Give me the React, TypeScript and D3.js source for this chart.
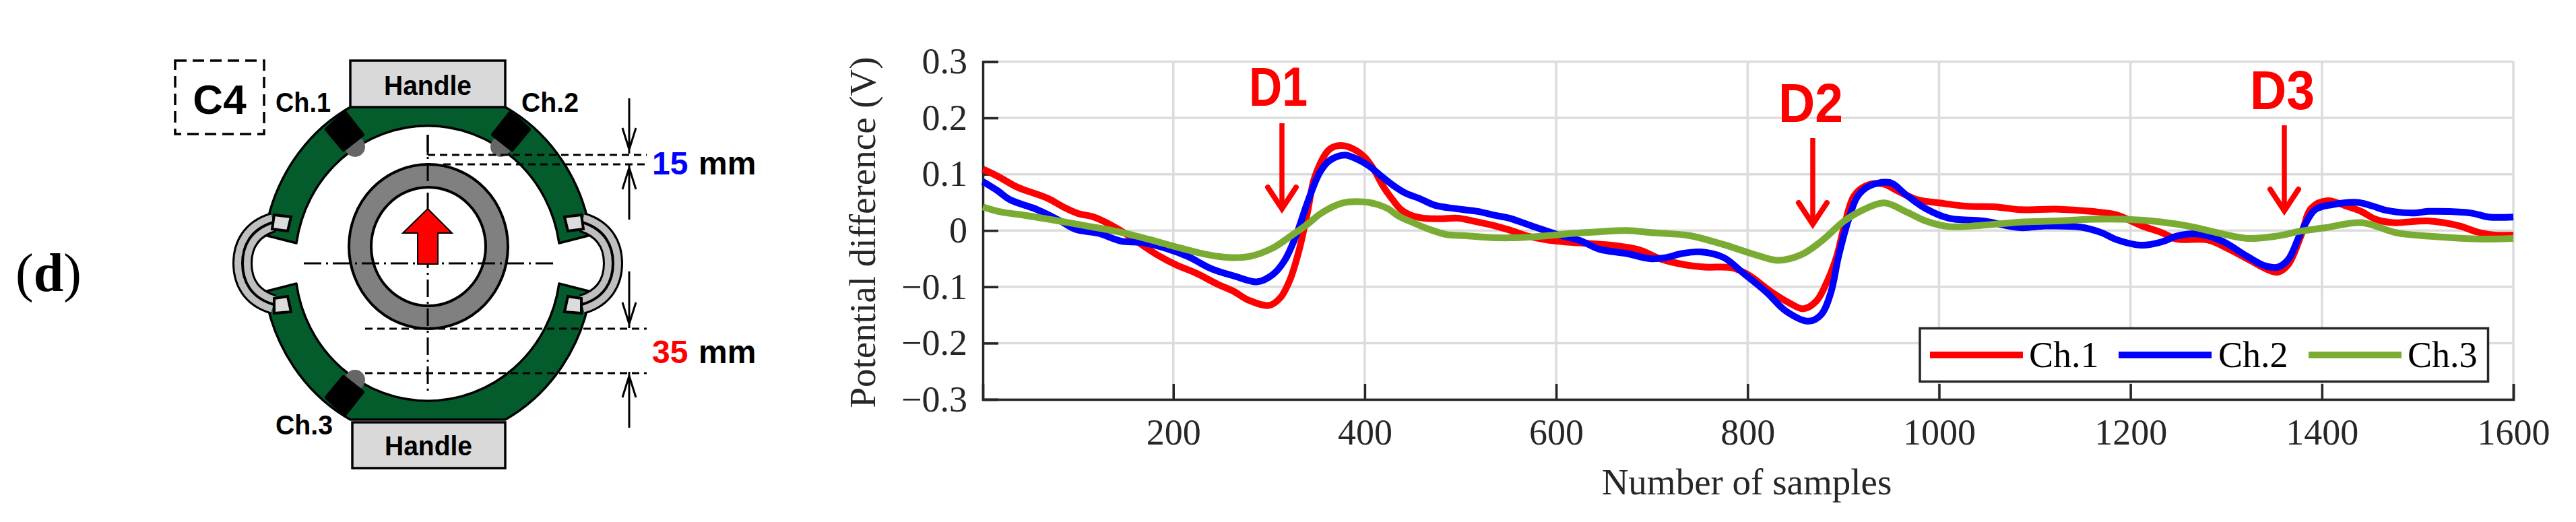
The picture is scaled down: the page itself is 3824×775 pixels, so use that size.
import React, { useRef, useEffect } from "react";
import * as d3 from "d3";

// values
const ch1Samples = [1, 17, 37, 69, 85, 101, 117, 142, 166, 183, 203, 223, 247, 263, 279, 300, 312, 322, 332, 340, 348, 363, 375, 389, 400, 410, 419, 429, 438, 447, 461, 480, 497, 513, 532, 551, 573, 601, 634, 662, 686, 710, 735, 755, 783, 800, 824, 844, 858, 872, 884, 893, 901, 911, 923, 941, 957, 977, 1005, 1030, 1059, 1085, 1122, 1159, 1185, 1211, 1233, 1248, 1281, 1304, 1326, 1344, 1354, 1365, 1378, 1389, 1406, 1426, 1441, 1456, 1474, 1511, 1544, 1563, 1581, 1600];
const ch1Values = [0.109, 0.096, 0.077, 0.057, 0.042, 0.03, 0.024, 0.003, -0.024, -0.043, -0.061, -0.075, -0.096, -0.108, -0.124, -0.133, -0.119, -0.087, -0.031, 0.031, 0.096, 0.144, 0.151, 0.144, 0.13, 0.107, 0.079, 0.055, 0.037, 0.028, 0.022, 0.021, 0.022, 0.017, 0.01, 0.001, -0.011, -0.019, -0.023, -0.027, -0.034, -0.051, -0.061, -0.065, -0.066, -0.078, -0.108, -0.129, -0.139, -0.125, -0.087, -0.046, 0.008, 0.061, 0.079, 0.083, 0.07, 0.055, 0.048, 0.043, 0.042, 0.037, 0.038, 0.034, 0.028, 0.009, -0.004, -0.015, -0.017, -0.034, -0.054, -0.07, -0.074, -0.06, -0.01, 0.04, 0.053, 0.043, 0.034, 0.02, 0.014, 0.017, 0.008, -0.003, -0.008, -0.008];
const ch2Samples = [1, 17, 29, 58, 82, 98, 122, 146, 166, 191, 215, 240, 264, 288, 304, 316, 328, 340, 353, 363, 379, 393, 405, 417, 429, 443, 457, 473, 494, 518, 536, 551, 573, 601, 625, 645, 674, 698, 715, 731, 751, 775, 795, 820, 840, 864, 877, 887, 895, 905, 915, 927, 949, 965, 985, 1010, 1046, 1085, 1111, 1148, 1170, 1185, 1211, 1233, 1248, 1270, 1296, 1322, 1341, 1354, 1365, 1378, 1393, 1411, 1437, 1452, 1467, 1496, 1511, 1556, 1574, 1600];
const ch2Values = [0.087, 0.07, 0.055, 0.037, 0.017, 0.002, -0.005, -0.019, -0.021, -0.031, -0.046, -0.068, -0.081, -0.091, -0.078, -0.054, -0.01, 0.049, 0.103, 0.124, 0.134, 0.126, 0.114, 0.097, 0.081, 0.066, 0.057, 0.045, 0.039, 0.034, 0.027, 0.022, 0.009, -0.007, -0.018, -0.033, -0.041, -0.05, -0.048, -0.041, -0.038, -0.048, -0.075, -0.11, -0.143, -0.161, -0.149, -0.11, -0.046, 0.017, 0.061, 0.079, 0.085, 0.064, 0.04, 0.022, 0.017, 0.005, 0.008, 0.006, -0.004, -0.016, -0.026, -0.02, -0.01, -0.006, -0.019, -0.046, -0.063, -0.065, -0.051, -0.004, 0.037, 0.046, 0.05, 0.044, 0.036, 0.031, 0.034, 0.031, 0.024, 0.024];
const ch3Samples = [1, 20, 45, 77, 110, 142, 175, 207, 236, 258, 280, 304, 320, 340, 353, 365, 377, 398, 412, 424, 436, 452, 466, 485, 504, 527, 551, 585, 617, 646, 674, 702, 739, 775, 808, 832, 856, 877, 901, 921, 943, 966, 986, 1010, 1043, 1085, 1122, 1159, 1193, 1233, 1263, 1293, 1322, 1352, 1378, 1404, 1441, 1478, 1511, 1563, 1600];
const ch3Values = [0.042, 0.033, 0.027, 0.018, 0.008, -0.002, -0.016, -0.031, -0.043, -0.048, -0.046, -0.031, -0.013, 0.011, 0.029, 0.041, 0.049, 0.051, 0.047, 0.039, 0.025, 0.013, 0.003, -0.007, -0.009, -0.012, -0.013, -0.01, -0.005, -0.002, 0, -0.004, -0.009, -0.025, -0.043, -0.053, -0.043, -0.019, 0.017, 0.037, 0.049, 0.033, 0.017, 0.007, 0.009, 0.015, 0.017, 0.02, 0.02, 0.015, 0.007, -0.005, -0.014, -0.01, -0.001, 0.005, 0.014, -0.004, -0.01, -0.015, -0.014];

const xTickValues = [200, 400, 600, 800, 1000, 1200, 1400, 1600];
const yTickValues = [-0.3, -0.2, -0.1, 0, 0.1, 0.2, 0.3];

const channelNames = ["Ch.1", "Ch.2", "Ch.3"];
const channelColors = ["#ff0000", "#0000ff", "#7aab33"];

const serif = "'Liberation Serif', serif";
const sans = "'Liberation Sans', Arial, sans-serif";

const ink = "#262626";

// mirror helpers for the sensor schematic, which is symmetric around (635, 391)
const mx = (x: number) => 1270 - x;
const my = (y: number) => 782 - y;
const pts = (p: number[][]) => p.map((d) => d.join(",")).join(" ");

const sensorBody = [[512, 167], [538, 200], [510, 222], [485, 192]];
const coilPath = "M406,330 C372,340 360,365 360,391 C360,417 372,442 406,452";
const upperBoard = "M393,349 A245,263 0 0 1 520,159 L750,159 A245,263 0 0 1 877,349 L830,361 A197,203 0 0 0 440,361 Z";
const lowerBoard = "M393,433 A245,263 0 0 0 520,623 L750,623 A245,263 0 0 0 877,433 L830,421 A197,203 0 0 1 440,421 Z";

function DownArrow({ x, y0, y1 }: { x: number; y0: number; y1: number }) {
  return (
    <path
      d={`M${x},${y0} L${x},${y1} M${x - 10},${y1 - 38} L${x},${y1 - 6} L${x + 10},${y1 - 38}`}
      fill="none"
      stroke="#000"
      strokeWidth={3}
    />
  );
}

function UpArrow({ x, y0, y1 }: { x: number; y0: number; y1: number }) {
  return (
    <path
      d={`M${x},${y0} L${x},${y1} M${x - 10},${y1 + 38} L${x},${y1 + 6} L${x + 10},${y1 + 38}`}
      fill="none"
      stroke="#000"
      strokeWidth={3}
    />
  );
}

function RedMark({ label, x, top, tip, tx, ty, tw }: { label: string; x: number; top: number; tip: number; tx: number; ty: number; tw: number }) {
  const wingY = tip - 39;
  return (
    <g>
      <line x1={x} x2={x} y1={top} y2={tip - 10} stroke="#ff0000" strokeWidth={7.5} />
      <path
        d={`M${x - 21},${wingY} L${x},${tip - 7} L${x + 21},${wingY}`}
        fill="none"
        stroke="#ff0000"
        strokeWidth={8}
        strokeLinecap="round"
        strokeMiterlimit={8}
      />
      <text x={tx} y={ty} fontFamily={sans} fontWeight={700} fontSize={82} fill="#ff0000" textLength={tw} lengthAdjust="spacingAndGlyphs">
        {label}
      </text>
    </g>
  );
}

function Schematic() {
  const coil = (flip: boolean) => (
    <g transform={flip ? "translate(1270,0) scale(-1,1)" : undefined}>
      <path d={coilPath} fill="none" stroke="#000" strokeWidth={30} />
      <path d={coilPath} fill="none" stroke="#bfbfbf" strokeWidth={24} />
      <path d={coilPath} fill="none" stroke="#000" strokeWidth={4} />
      <polygon points={pts([[407, 319], [432, 322], [427, 343], [404, 340]])} fill="#dcdcdc" stroke="#000" strokeWidth={4} />
      <polygon points={pts([[407, 443], [427, 440], [432, 463], [407, 465]])} fill="#dcdcdc" stroke="#000" strokeWidth={4} />
    </g>
  );

  return (
    <g>
      <text x={23} y={432} fontFamily={serif} fontSize={80} fill="#000">
        (<tspan fontWeight={700}>d</tspan>)
      </text>

      <rect x={260} y={90} width={132} height={109} fill="none" stroke="#000" strokeWidth={3.5} strokeDasharray="17 9" />
      <text x={326} y={169} textAnchor="middle" fontFamily={sans} fontWeight={700} fontSize={62} fill="#000">C4</text>

      <path d={upperBoard} fill="#045c2c" stroke="#000" strokeWidth={3.5} strokeLinejoin="round" />
      <path d={lowerBoard} fill="#045c2c" stroke="#000" strokeWidth={3.5} strokeLinejoin="round" />
      {coil(false)}
      {coil(true)}

      <rect x={520} y={90} width={230} height={69} fill="#d9d9d9" stroke="#000" strokeWidth={3.5} />
      <rect x={523} y={627} width={227} height={68} fill="#d9d9d9" stroke="#000" strokeWidth={3.5} />
      <text x={635} y={141} textAnchor="middle" fontFamily={sans} fontWeight={700} fontSize={41} fill="#000" textLength={130} lengthAdjust="spacingAndGlyphs">Handle</text>
      <text x={636} y={676} textAnchor="middle" fontFamily={sans} fontWeight={700} fontSize={41} fill="#000" textLength={130} lengthAdjust="spacingAndGlyphs">Handle</text>

      <circle cx={527} cy={218} r={15} fill="#666" />
      <circle cx={mx(527)} cy={218} r={15} fill="#666" />
      <circle cx={527} cy={my(218)} r={15} fill="#666" />
      <polygon points={pts(sensorBody)} fill="#000" stroke="#000" strokeWidth={6} strokeLinejoin="round" />
      <polygon points={pts(sensorBody.map(([x, y]) => [mx(x), y]))} fill="#000" stroke="#000" strokeWidth={6} strokeLinejoin="round" />
      <polygon points={pts(sensorBody.map(([x, y]) => [x, my(y)]))} fill="#000" stroke="#000" strokeWidth={6} strokeLinejoin="round" />

      <text x={409} y={166} fontFamily={sans} fontWeight={700} fontSize={40} textLength={82} lengthAdjust="spacingAndGlyphs">Ch.1</text>
      <text x={774} y={166} fontFamily={sans} fontWeight={700} fontSize={40} textLength={85} lengthAdjust="spacingAndGlyphs">Ch.2</text>
      <text x={409} y={645} fontFamily={sans} fontWeight={700} fontSize={40} textLength={85} lengthAdjust="spacingAndGlyphs">Ch.3</text>

      <ellipse cx={636} cy={366} rx={118} ry={122} fill="#808080" stroke="#000" strokeWidth={4} />
      <ellipse cx={636} cy={366} rx={85} ry={88} fill="#fff" stroke="#000" strokeWidth={4} />

      <line x1={635} y1={200} x2={635} y2={586} stroke="#000" strokeWidth={3} strokeDasharray="26 7 3 7" />
      <line x1={451} y1={391} x2={826} y2={391} stroke="#000" strokeWidth={3} strokeDasharray="26 7 3 7" />
      <line x1={635} y1={200} x2={635} y2={230} stroke="#000" strokeWidth={3} />

      <polygon
        points={pts([[635, 310], [671, 346], [650, 346], [650, 392], [620, 392], [620, 346], [598, 346]])}
        fill="#ff0000"
        stroke="#000"
        strokeWidth={2}
      />

      <g stroke="#000" strokeWidth={3} strokeDasharray="11 7">
        <line x1={635} y1={230} x2={960} y2={230} />
        <line x1={658} y1={244} x2={960} y2={244} />
        <line x1={542} y1={488} x2={960} y2={488} />
        <line x1={542} y1={554} x2={960} y2={554} />
      </g>

      <DownArrow x={934} y0={146} y1={228} />
      <UpArrow x={934} y0={326} y1={243} />
      <DownArrow x={934} y0={403} y1={487} />
      <UpArrow x={934} y0={635} y1={552} />

      <text x={968} y={259} fontFamily={sans} fontWeight={700} fontSize={48}>
        <tspan fill="#0000ff">15</tspan>
        <tspan x={1037} fill="#000">mm</tspan>
      </text>
      <text x={968} y={539} fontFamily={sans} fontWeight={700} fontSize={48}>
        <tspan fill="#ff0000">35</tspan>
        <tspan x={1037} fill="#000">mm</tspan>
      </text>
    </g>
  );
}

export default function App() {
  const ref = useRef<SVGGElement | null>(null);

  useEffect(() => {
    const root = d3.select(ref.current);
    root.selectAll("*").remove();

    const x = d3.scaleLinear().domain([1, 1600]).range([1459, 3731]);
    const y = d3.scaleLinear().domain([-0.3, 0.3]).range([593, 91.5]);

    // grid lines
    root
      .append("g")
      .selectAll("line")
      .data(xTickValues)
      .join("line")
      .attr("x1", (d) => x(d))
      .attr("x2", (d) => x(d))
      .attr("y1", y(-0.3))
      .attr("y2", y(0.3))
      .attr("stroke", "#dcdcdc")
      .attr("stroke-width", 3.5);
    root
      .append("g")
      .selectAll("line")
      .data(yTickValues)
      .join("line")
      .attr("x1", x(1))
      .attr("x2", x(1600))
      .attr("y1", (d) => y(d))
      .attr("y2", (d) => y(d))
      .attr("stroke", "#dcdcdc")
      .attr("stroke-width", 3.5);

    const xAxis = d3.axisBottom(x).tickValues(xTickValues).tickSize(-23).tickPadding(29).tickFormat(d3.format("d") as any);
    const yAxis = d3
      .axisLeft(y)
      .tickValues(yTickValues)
      .tickSize(-23)
      .tickPadding(23)
      .tickFormat((d) => (+d === 0 ? "0" : `${+d < 0 ? "\u2212" : ""}${Math.abs(+d).toFixed(1)}`));

    const xG = root.append("g").attr("transform", `translate(0,${y(-0.3)})`).call(xAxis);
    const yG = root.append("g").attr("transform", `translate(${x(1)},0)`).call(yAxis);

    [xG, yG].forEach((g) => {
      g.select(".domain").attr("stroke", ink).attr("stroke-width", 3.5);
      g.selectAll(".tick line").attr("stroke", ink).attr("stroke-width", 3.5);
      g.selectAll("text").attr("fill", ink).attr("font-family", serif).attr("font-size", 54);
    });

    const line = d3
      .line<[number, number]>()
      .x((d) => x(d[0]))
      .y((d) => y(d[1]))
      .curve(d3.curveCatmullRom.alpha(0.5));

    const samples = [ch1Samples, ch2Samples, ch3Samples];
    const values = [ch1Values, ch2Values, ch3Values];

    channelNames.forEach((name, i) => {
      root
        .append("path")
        .attr("d", line(samples[i].map((s, j) => [s, values[i][j]] as [number, number])))
        .attr("fill", "none")
        .attr("stroke", channelColors[i])
        .attr("stroke-width", 10)
        .attr("stroke-linejoin", "round")
        .attr("data-name", name);
    });

    // legend
    const legend = root.append("g");
    legend
      .append("rect")
      .attr("x", 2850)
      .attr("y", 487.5)
      .attr("width", 843.5)
      .attr("height", 79)
      .attr("fill", "#fff")
      .attr("stroke", ink)
      .attr("stroke-width", 3.5);
    const swatchStart = [2865, 3145, 3427];
    const labelStart = [3012, 3293, 3574];
    channelNames.forEach((name, i) => {
      legend
        .append("line")
        .attr("x1", swatchStart[i])
        .attr("x2", swatchStart[i] + 138)
        .attr("y1", 527)
        .attr("y2", 527)
        .attr("stroke", channelColors[i])
        .attr("stroke-width", 10);
      legend
        .append("text")
        .attr("x", labelStart[i])
        .attr("y", 545)
        .attr("font-family", serif)
        .attr("font-size", 54)
        .attr("fill", "#000")
        .text(name);
    });
  }, []);

  return (
    <svg width={3824} height={775} style={{ position: "absolute", left: 0, top: 0, background: "#fff" }}>
      <Schematic />
      <g ref={ref} />
      <RedMark label="D1" x={1903} top={183} tip={317} tx={1854} ty={157} tw={87} />
      <RedMark label="D2" x={2691} top={205} tip={340} tx={2640} ty={181} tw={96} />
      <RedMark label="D3" x={3391} top={186} tip={320} tx={3340} ty={162} tw={96} />
      <text x={2593} y={734} textAnchor="middle" fontFamily={serif} fontSize={55} fill={ink}>Number of samples</text>
      <text transform="translate(1299,345) rotate(-90)" textAnchor="middle" fontFamily={serif} fontSize={55} fill={ink}>Potential difference (V)</text>
    </svg>
  );
}
